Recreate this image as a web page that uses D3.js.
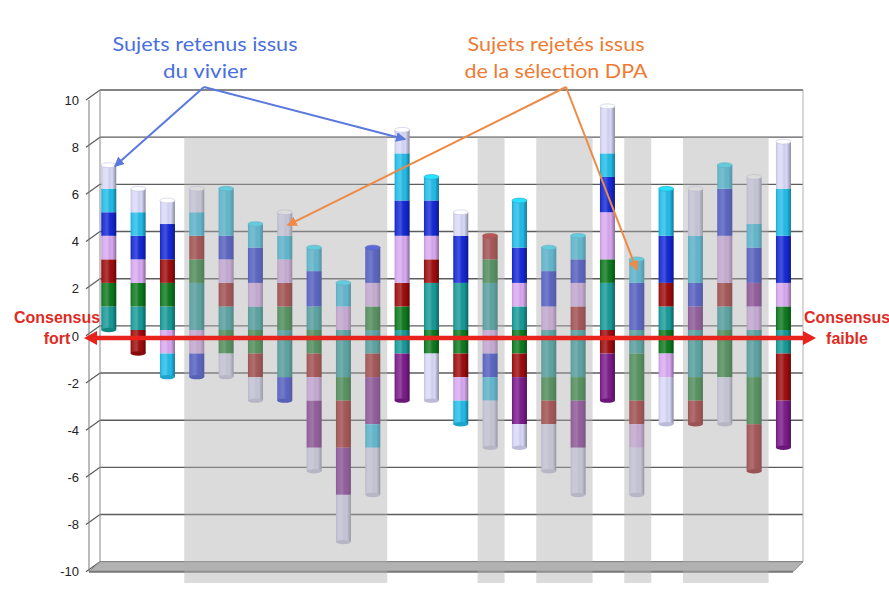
<!DOCTYPE html>
<html>
<head>
<meta charset="utf-8">
<script src="https://cdn.jsdelivr.net/npm/d3@7"></script>
<style>
  html, body { margin: 0; padding: 0; background: #ffffff; }
  svg { display: block; }
</style>
</head>
<body>
<svg id="chart" width="889" height="601"></svg>
<script>
// Subjects (one stacked column each)
const subjects = d3.range(1, 25).map(String);

// Series, in stacking order
const seriesNames = ["teal", "green", "red", "lilac", "purple", "blue", "cyan", "lavender"];
const seriesColors = ["#169a98", "#0d7a1f", "#9e0c0c", "#d9a9f2", "#7b1a8c", "#1428d6", "#22bde9", "#d9d9f9"];

// Scores per subject for each series
const teal     = [1, 1, 1, 2, 1, 1, -2, 1, -2, -1, -1, 2, 2, 2, 1, -2, -2, 2, -1, 1, -2, 1, -2, -1];
const green    = [1, 1, 1, 1, -1, -1, 1, -1, -1, 1, 1, -1, -1, 1, -1, -1, -1, 1, -2, -1, -1, -2, -2, 1];
const red      = [1, -1, 1, 1, 1, -1, 1, -1, -2, -1, 1, 1, -1, 1, -1, -1, 1, -1, -1, 1, -1, 1, -2, -2];
const lilac    = [1, 1, -1, -1, 1, 1, 1, -1, 1, 1, 2, 1, -1, -1, 1, 1, 1, 2, -1, -1, 0, 2, 1, 1];
const purple   = [0, 0, 0, 0, 0, 0, 0, -2, -2, -2, -2, 0, 0, 0, -2, 0, -2, -2, 0, 0, 1, 0, 1, -2];
const blue     = [1, 1, 1.5, -1, 1, 1.5, -1, 1.5, 0, 1.5, 1.5, 1.5, 2, -1, 1.5, 1.5, 1, 1.5, 2, 2, 1, 2, 1.5, 2];
const cyan     = [1, 1, -1, 1, 2, 1, 1, 1, 1, -1, 2, 1, -1, -1, 2, 1, 1, 1, 1, 2, 2, 1, 1, 2];
const lavender = [1, 1, 1, 1, -1, -1, 1, -1, -2, -2, 1, -2, 1, -2, -1, -2, -2, 2, -2, -2, 2, -2, 2, 2];
const seriesValues = [teal, green, red, lilac, purple, blue, cyan, lavender];

// Highlighted groups of subjects (first, last)
const bandGroups = [["4", "10"], ["14", "14"], ["16", "17"], ["19", "19"], ["21", "23"]];

// Axis ticks
const yTicks = [-10, -8, -6, -4, -2, 0, 2, 4, 6, 8, 10];

// Annotations
const blueNote = ["Sujets retenus issus", "du vivier"];
const blueTargets = ["1", "11"];
const orangeNote = ["Sujets rejetés issus", "de la sélection DPA"];
const orangeTargets = ["7", "19"];

// ---------------------------------------------------------------
const rows = subjects.map((s, i) => {
  const r = { subject: s };
  seriesNames.forEach((k, j) => { r[k] = seriesValues[j][i]; });
  return r;
});
const stacked = d3.stack().keys(seriesNames).offset(d3.stackOffsetDiverging)(rows);
const color = d3.scaleOrdinal().domain(seriesNames).range(seriesColors);

const svg = d3.select("#chart");
const W = 889, H = 601;

const x = d3.scaleBand().domain(subjects).range([94.1, 798.1]).paddingInner(0.49).paddingOuter(0.245);
const bw = x.bandwidth();
const yBar = d3.scaleLinear().domain([-10, 10]).range([565.5, 94.5]);
const yWall = d3.scaleLinear().domain([-10, 10]).range([561.7, 90]);
const yFront = d3.scaleLinear().domain([-10, 10]).range([571.7, 100]);

const wallL = 100, wallR = 803, frontL = 89, depth = 10;

// Cylinder shading
const defs = svg.append("defs");
const g = defs.append("linearGradient").attr("id", "shade").attr("x1", 0).attr("x2", 1).attr("y1", 0).attr("y2", 0);
[[0, "#000", 0.12], [0.15, "#fff", 0.10], [0.4, "#fff", 0.2], [0.72, "#000", 0.0], [0.86, "#000", 0.18], [1, "#000", 0.38]]
  .forEach(([o, c, a]) => g.append("stop").attr("offset", o).attr("stop-color", c).attr("stop-opacity", a));

function arrowMarker(id, c) {
  defs.append("marker").attr("id", id).attr("viewBox", "0 0 10 10").attr("refX", 9).attr("refY", 5)
    .attr("markerWidth", 5).attr("markerHeight", 5).attr("orient", "auto").attr("markerUnits", "strokeWidth")
    .append("path").attr("d", "M0,0 L10,5 L0,10 z").attr("fill", c);
}
arrowMarker("headBlue", "#5a78de");
arrowMarker("headOrange", "#ef8a44");

svg.append("rect").attr("width", W).attr("height", H).attr("fill", "#ffffff");

// Back wall and grid
const grid = svg.append("g");
grid.append("rect").attr("x", wallL).attr("y", yWall(10)).attr("width", wallR - wallL).attr("height", yWall(-10) - yWall(10)).attr("fill", "#ffffff");
yTicks.forEach(t => {
  grid.append("line").attr("x1", wallL).attr("x2", wallR).attr("y1", yWall(t)).attr("y2", yWall(t))
    .attr("stroke", "#5c5c5c").attr("stroke-width", 1.4);
  grid.append("line").attr("x1", frontL - 3).attr("x2", wallL).attr("y1", yFront(t)).attr("y2", yWall(t))
    .attr("stroke", "#5c5c5c").attr("stroke-width", 1.2);
});
grid.append("line").attr("x1", wallL).attr("x2", wallL).attr("y1", yWall(10)).attr("y2", yWall(-10)).attr("stroke", "#8a8a8a").attr("stroke-width", 1);
grid.append("line").attr("x1", wallR).attr("x2", wallR).attr("y1", yWall(10)).attr("y2", yWall(-10)).attr("stroke", "#b0b0b0").attr("stroke-width", 1);
grid.append("line").attr("x1", frontL).attr("x2", frontL).attr("y1", yFront(10)).attr("y2", yFront(-10)).attr("stroke", "#777").attr("stroke-width", 1);

// Floor slab
const fy0 = yWall(-10), fy1 = yFront(-10);
grid.append("path")
  .attr("d", `M${wallL},${fy0} L${wallR},${fy0} L${wallR - depth},${fy1} L${frontL},${fy1} Z`)
  .attr("fill", "#b2b2b2").attr("stroke", "#8c8c8c").attr("stroke-width", 1);
grid.append("line").attr("x1", frontL).attr("x2", wallR - depth).attr("y1", fy1).attr("y2", fy1)
  .attr("stroke", "#7a7a7a").attr("stroke-width", 2);

// Stacked columns
const bars = svg.append("g");
stacked.forEach(layer => {
  bars.append("g").attr("fill", color(layer.key))
    .selectAll("rect").data(layer.filter(d => d[1] !== d[0])).join("rect")
    .attr("x", d => x(d.data.subject))
    .attr("y", d => yBar(d[1]))
    .attr("width", bw)
    .attr("height", d => yBar(d[0]) - yBar(d[1]));
});
// Extents per column for the cylinder caps and shading
const extents = subjects.map((s, i) => {
  let top = 0, bot = 0, topKey = null, botKey = null;
  stacked.forEach(layer => {
    const d = layer[i];
    if (d[1] === d[0]) return;
    if (d[1] >= top) { top = d[1]; topKey = layer.key; }
    if (d[0] <= bot) { bot = d[0]; botKey = layer.key; }
  });
  return { subject: s, top, bot, topKey, botKey };
});
bars.selectAll("rect.shade").data(extents).join("rect").attr("class", "shade")
  .attr("x", d => x(d.subject)).attr("y", d => yBar(d.top)).attr("width", bw)
  .attr("height", d => yBar(d.bot) - yBar(d.top)).attr("fill", "url(#shade)");
bars.selectAll("ellipse.bottom").data(extents).join("ellipse").attr("class", "bottom")
  .attr("cx", d => x(d.subject) + bw / 2).attr("cy", d => yBar(d.bot))
  .attr("rx", bw / 2).attr("ry", 2.2)
  .attr("fill", d => d3.color(color(d.botKey)).darker(0.4));
bars.selectAll("ellipse.cap").data(extents).join("ellipse").attr("class", "cap")
  .attr("cx", d => x(d.subject) + bw / 2).attr("cy", d => yBar(d.top))
  .attr("rx", bw / 2).attr("ry", 2.4)
  .attr("fill", d => d3.color(color(d.topKey)).brighter(0.5))
  .attr("stroke", d => d3.color(color(d.topKey)).darker(0.3)).attr("stroke-width", 0.6);

// Highlight bands
const bandTop = yWall(8), bandBottom = 583;
svg.append("g").selectAll("rect").data(bandGroups).join("rect")
  .attr("x", d => x(d[0]) - 5)
  .attr("y", bandTop)
  .attr("width", d => x(d[1]) + bw + 7 - (x(d[0]) - 5))
  .attr("height", bandBottom - bandTop)
  .attr("fill", "#b0b0b0").attr("fill-opacity", 0.45);

// Y axis labels
const axis = d3.axisLeft(yFront).tickValues(yTicks).tickSize(0).tickPadding(0).tickFormat(d => String(d));
const ax = svg.append("g").attr("transform", "translate(79,0)").call(axis);
ax.select(".domain").remove();
ax.selectAll("text").attr("font-family", "Liberation Sans, Arial, sans-serif").attr("font-size", 13).attr("fill", "#222");

// Consensus arrow along zero
const ay = 338, tipL = 84, tipR = 816, head = 13, half = 7, th = 2.3;
svg.append("path")
  .attr("d", `M${tipL},${ay} L${tipL + head},${ay - half} L${tipL + head},${ay - th} L${tipR - head},${ay - th} L${tipR - head},${ay - half} L${tipR},${ay} L${tipR - head},${ay + half} L${tipR - head},${ay + th} L${tipL + head},${ay + th} L${tipL + head},${ay + half} Z`)
  .attr("fill", "#e8231c");

const redFont = "Liberation Sans, Arial, sans-serif";
function redLabel(cx, lines) {
  const t = svg.append("text").attr("font-family", redFont).attr("font-weight", "bold").attr("font-size", 16)
    .attr("fill", "#e02b24").attr("text-anchor", "middle");
  lines.forEach((l, i) => t.append("tspan").attr("x", cx).attr("y", 323 + i * 21).text(l));
}
redLabel(57, ["Consensus", "fort"]);
redLabel(847, ["Consensus", "faible"]);

// Annotations
function note(lines, cx, colorText, widths) {
  const t = svg.append("text").attr("font-family", "Lato, Open Sans, sans-serif").attr("font-size", 20)
    .attr("fill", colorText).attr("text-anchor", "middle");
  lines.forEach((l, i) => t.append("tspan").attr("x", cx).attr("y", 51 + i * 27)
    .attr("textLength", widths[i]).attr("lengthAdjust", "spacingAndGlyphs").text(l));
}
note(blueNote, 205, "#4a6fe0", [185, 84]);
note(orangeNote, 556, "#ee7b33", [177, 183]);

const topOf = s => extents.find(e => e.subject === s).top;
function pointer(origin, s, marker, stroke, dx, dv) {
  svg.append("line")
    .attr("x1", origin[0]).attr("y1", origin[1])
    .attr("x2", x(s) + bw / 2 + dx).attr("y2", yBar(topOf(s) - dv))
    .attr("stroke", stroke).attr("stroke-width", 2).attr("marker-end", `url(#${marker})`);
}
pointer([204, 87], blueTargets[0], "headBlue", "#5a78de", 6, 0.05);
pointer([204, 87], blueTargets[1], "headBlue", "#5a78de", 3, 0.4);
pointer([566, 87], orangeTargets[0], "headOrange", "#ef8a44", 3, 0.55);
pointer([566, 87], orangeTargets[1], "headOrange", "#ef8a44", 0, 0.45);
</script>
</body>
</html>
